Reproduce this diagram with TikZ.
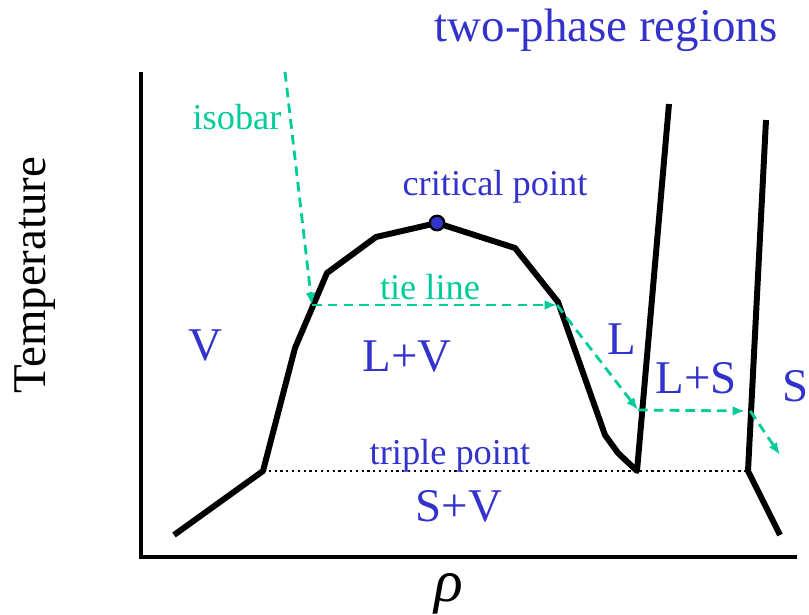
\documentclass[tikz,border=0pt]{standalone}
\usepackage{fontspec}
\setmainfont{Liberation Serif}
\usetikzlibrary{
    arrows.meta, % For arrow tips
    positioning  % For label positioning
}
\definecolor{phaseblue}{RGB}{51,51,204}
\definecolor{isogreen}{RGB}{0,204,153}

\begin{document}
\begin{tikzpicture}[
    x=0.02cm, y=-0.02cm, % one unit = one pixel of the sketch
    >=Latex, % Set default arrow tip style
    axis/.style={line width=2pt}, % Style for axes
    boundary/.style={line width=3.4pt, line join=round}, % Phase boundaries
    triple/.style={line width=1.3pt, dash pattern=on 1.3pt off 2pt}, % Triple line
    isoline/.style={isogreen, line width=1.6pt, dash pattern=on 5.5pt off 3.5pt,
        -{Latex[length=7pt, width=5.5pt]}}, % Style for the isobar
    region/.style={phaseblue, font=\fontsize{26.7}{30}\selectfont},
    note/.style={phaseblue, font=\fontsize{20.7}{24}\selectfont},
    greennote/.style={isogreen, font=\fontsize{20.7}{24}\selectfont}
]
    \useasboundingbox (0,0) rectangle (809,615);

    % Axes
    \draw[axis] (141,72) -- (141,557) -- (797,557);
    \node (T) [rotate=90, font=\fontsize{26.7}{30}\selectfont] at (35,275) {Temperature};
    \node (rho) [font=\fontsize{34}{38}\selectfont\itshape] at (449,594) {ρ};

    % Define coordinates for the boundary corners
    \coordinate (gasEnd)   at (174,535); % Lower end of sublimation line
    \coordinate (tpV)      at (263,471); % Vapour side of triple line
    \coordinate (d1)       at (295,348);
    \coordinate (d2)       at (327,273);
    \coordinate (d3)       at (376,237);
    \coordinate (cpPos)    at (437,223); % Critical point
    \coordinate (d4)       at (515,248);
    \coordinate (d5)       at (558,302);
    \coordinate (d6)       at (605,435);
    \coordinate (d7)       at (618,453);
    \coordinate (tpL)      at (637,471); % Liquid side of triple line
    \coordinate (meltTop)  at (669,104);
    \coordinate (tpS)      at (748,471); % Solid side of triple line
    \coordinate (solidTop) at (766,120);
    \coordinate (subEnd)   at (780,535);

    % Triple line
    \draw[triple] (tpV) -- (tpS);

    % Boundaries
    \draw[boundary] (gasEnd) -- (tpV) -- (d1) -- (d2) -- (d3) -- (cpPos)
        -- (d4) -- (d5) -- (d6) -- (d7) -- (tpL) -- (meltTop);
    \draw[boundary] (solidTop) -- (tpS) -- (subEnd);
    \node (cp) [circle, draw, fill=phaseblue, line width=1.3pt, inner sep=0pt,
        minimum size=0.29cm] at (cpPos) {};

    % Isobar
    \coordinate (iso0) at (285,72);
    \coordinate (iso1) at (312,305);
    \coordinate (iso2) at (557,305);
    \coordinate (iso3) at (638,410);
    \coordinate (iso4) at (745,411);
    \coordinate (iso5) at (780,455);
    \draw[isoline] (iso0) -- (iso1);
    \draw[isoline] (iso1) -- (iso2);
    \draw[isoline] (iso2) -- (iso3);
    \draw[isoline] (iso3) -- (iso4);
    \draw[isoline] ([xshift=3]iso4) -- (iso5);

    % Labels
    \node (title)  [region]    at (606,30)  {two-phase regions};
    \node (isoLab) [greennote] at (237,117) {isobar};
    \node (cpLab)  [note]      at (495,187) {critical point};
    \node (tieLab) [greennote] at (430,287) {tie line};
    \node (tpLab)  [note]      at (450,456) {triple point};
    \node (V)      [region]    at (205,345) {V};
    \node (LV)     [region]    at (407,356) {L+V};
    \node (L)      [region]    at (622,339) {L};
    \node (LS)     [region]    at (696,378) {L+S};
    \node (S)      [region]    at (796,386) {S};
    \node (SV)     [region]    at (459,506) {S+V};

\end{tikzpicture}
\end{document}
